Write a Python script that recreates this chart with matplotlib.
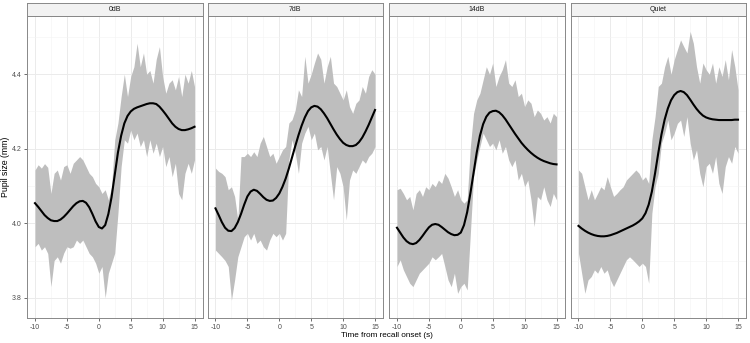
import numpy as np
import matplotlib
matplotlib.use("Agg")
import matplotlib.pyplot as plt

plt.rcParams['font.family'] = ['Liberation Sans', 'DejaVu Sans']
plt.rcParams['axes.unicode_minus'] = False

# time axis (s), 0.5 s steps
time = np.arange(-10, 15.5, 0.5)

panels = ["0dB", "7dB", "14dB", "Quiet"]

# smoothed pupil size (mm)
fit_0db = [4.054, 4.044, 4.033, 4.022, 4.014, 4.008, 4.006, 4.006, 4.010, 4.017, 4.026,
           4.036, 4.046, 4.054, 4.059, 4.060, 4.055, 4.043, 4.025, 4.005, 3.990,
           3.986, 3.995, 4.025, 4.070, 4.130, 4.190, 4.235, 4.268, 4.288, 4.300,
           4.307, 4.311, 4.314, 4.317, 4.320, 4.322, 4.322, 4.320, 4.313, 4.303,
           4.292, 4.280, 4.268, 4.259, 4.253, 4.250, 4.250, 4.252, 4.255, 4.259]
fit_7db = [4.040, 4.022, 4.003, 3.988, 3.980, 3.979, 3.987, 4.003, 4.025, 4.050, 4.072,
           4.085, 4.090, 4.087, 4.079, 4.070, 4.063, 4.060, 4.061, 4.068, 4.080,
           4.098, 4.120, 4.147, 4.177, 4.207, 4.236, 4.262, 4.284, 4.301, 4.311,
           4.315, 4.313, 4.306, 4.295, 4.282, 4.267, 4.252, 4.238, 4.226, 4.216,
           4.210, 4.207, 4.207, 4.210, 4.218, 4.230, 4.246, 4.264, 4.284, 4.304]
fit_14db = [3.988, 3.975, 3.962, 3.952, 3.946, 3.944, 3.947, 3.955, 3.966, 3.978, 3.989,
            3.996, 3.998, 3.996, 3.990, 3.983, 3.976, 3.971, 3.968, 3.969, 3.975,
            3.995, 4.030, 4.080, 4.135, 4.190, 4.235, 4.266, 4.286, 4.297, 4.301,
            4.302, 4.298, 4.290, 4.279, 4.266, 4.253, 4.240, 4.228, 4.216, 4.206,
            4.197, 4.189, 4.182, 4.176, 4.171, 4.167, 4.164, 4.161, 4.159, 4.158]
fit_quiet = [3.993, 3.986, 3.980, 3.975, 3.971, 3.968, 3.966, 3.965, 3.965, 3.966, 3.968,
             3.971, 3.974, 3.978, 3.982, 3.986, 3.990, 3.994, 3.999, 4.005, 4.013,
             4.027, 4.050, 4.085, 4.134, 4.188, 4.238, 4.278, 4.308, 4.330, 4.344,
             4.352, 4.355, 4.352, 4.344, 4.332, 4.319, 4.307, 4.297, 4.289, 4.284,
             4.281, 4.279, 4.278, 4.277, 4.277, 4.277, 4.277, 4.277, 4.278, 4.278]

# upper / lower edges of the grey band
hi_0db = [4.143, 4.157, 4.148, 4.160, 4.150, 4.080, 4.134, 4.143, 4.116, 4.152, 4.157,
          4.134, 4.161, 4.170, 4.179, 4.170, 4.152, 4.134, 4.125, 4.107, 4.098,
          4.080, 4.090, 4.063, 4.098, 4.224, 4.269, 4.340, 4.400, 4.340, 4.394,
          4.420, 4.483, 4.420, 4.457, 4.400, 4.410, 4.376, 4.440, 4.474, 4.394,
          4.349, 4.376, 4.385, 4.358, 4.394, 4.340, 4.400, 4.376, 4.410, 4.367]
lo_0db = [3.937, 3.946, 3.928, 3.937, 3.919, 3.830, 3.900, 3.910, 3.893, 3.920, 3.937,
          3.933, 3.937, 3.955, 3.946, 3.955, 3.937, 3.919, 3.910, 3.893, 3.866,
          3.884, 3.800, 3.866, 3.893, 3.920, 4.027, 4.152, 4.224, 4.215, 4.250,
          4.224, 4.242, 4.206, 4.224, 4.179, 4.224, 4.188, 4.215, 4.179, 4.206,
          4.152, 4.179, 4.125, 4.161, 4.080, 4.063, 4.134, 4.161, 4.134, 4.170]
hi_7db = [4.148, 4.139, 4.134, 4.125, 4.090, 4.098, 4.072, 4.009, 4.179, 4.179, 4.188,
          4.179, 4.192, 4.179, 4.215, 4.233, 4.206, 4.179, 4.188, 4.161, 4.179,
          4.197, 4.206, 4.269, 4.278, 4.304, 4.358, 4.340, 4.448, 4.376, 4.400,
          4.430, 4.457, 4.440, 4.376, 4.420, 4.448, 4.376, 4.367, 4.349, 4.331,
          4.358, 4.313, 4.295, 4.322, 4.331, 4.367, 4.349, 4.394, 4.412, 4.400]
lo_7db = [3.928, 3.919, 3.910, 3.900, 3.884, 3.794, 3.848, 3.910, 3.937, 3.964, 3.973,
          3.955, 3.973, 3.946, 3.955, 3.937, 3.928, 3.955, 3.973, 3.964, 3.973,
          3.955, 3.973, 4.170, 4.224, 4.188, 4.134, 4.215, 4.242, 4.260, 4.224,
          4.242, 4.197, 4.206, 4.170, 4.206, 4.134, 4.063, 4.152, 4.134, 4.098,
          4.009, 4.116, 4.143, 4.134, 4.152, 4.170, 4.161, 4.179, 4.188, 4.206]
hi_14db = [4.090, 4.094, 4.080, 4.063, 4.072, 4.036, 4.080, 4.090, 4.072, 4.098, 4.090,
           4.107, 4.098, 4.116, 4.107, 4.134, 4.121, 4.098, 4.072, 4.090, 4.063,
           4.054, 4.063, 4.206, 4.295, 4.331, 4.349, 4.385, 4.420, 4.400, 4.430,
           4.367, 4.394, 4.412, 4.439, 4.376, 4.367, 4.385, 4.340, 4.349, 4.313,
           4.331, 4.322, 4.286, 4.304, 4.295, 4.277, 4.286, 4.269, 4.295, 4.286]
lo_14db = [3.884, 3.902, 3.875, 3.857, 3.839, 3.830, 3.848, 3.866, 3.875, 3.884, 3.893,
           3.910, 3.902, 3.910, 3.919, 3.884, 3.848, 3.830, 3.866, 3.812, 3.830,
           3.839, 3.821, 3.973, 4.125, 4.170, 4.206, 4.242, 4.224, 4.206, 4.215,
           4.197, 4.224, 4.188, 4.206, 4.170, 4.152, 4.170, 4.116, 4.134, 4.098,
           4.116, 4.063, 3.991, 4.072, 4.063, 4.098, 4.063, 4.045, 4.080, 4.063]
hi_quiet = [4.143, 4.134, 4.098, 4.063, 4.090, 4.063, 4.080, 4.098, 4.090, 4.125, 4.098,
            4.072, 4.080, 4.090, 4.098, 4.116, 4.125, 4.134, 4.143, 4.134, 4.116,
            4.125, 4.107, 4.224, 4.286, 4.367, 4.376, 4.420, 4.448, 4.400, 4.439,
            4.466, 4.492, 4.474, 4.457, 4.515, 4.483, 4.420, 4.376, 4.430, 4.412,
            4.400, 4.430, 4.376, 4.420, 4.394, 4.439, 4.385, 4.466, 4.420, 4.358]
lo_quiet = [3.919, 3.866, 3.812, 3.848, 3.857, 3.875, 3.866, 3.884, 3.866, 3.875, 3.848,
            3.830, 3.848, 3.866, 3.884, 3.902, 3.910, 3.902, 3.893, 3.884, 3.893,
            3.884, 3.839, 4.027, 4.098, 4.134, 4.215, 4.242, 4.277, 4.224, 4.242,
            4.268, 4.277, 4.233, 4.286, 4.215, 4.170, 4.197, 4.134, 4.098, 4.152,
            4.161, 4.134, 4.179, 4.107, 4.080, 4.152, 4.179, 4.161, 4.206, 4.188]

fits = [fit_0db, fit_7db, fit_14db, fit_quiet]
highs = [hi_0db, hi_7db, hi_14db, hi_quiet]
lows = [lo_0db, lo_7db, lo_14db, lo_quiet]

W, H = 750, 343
fig = plt.figure(figsize=(W / 100, H / 100), dpi=100)

lefts = [27, 207.5, 389, 570.5]
pw = 175.5
top_px, bot_px = 15.7, 318.3
strip_top = 3.3

for i, name in enumerate(panels):
    x0 = lefts[i] / W
    ax = fig.add_axes([x0, 1 - bot_px / H, pw / W, (bot_px - top_px) / H])
    ax.fill_between(time, lows[i], highs[i], color='#bebebe', linewidth=0, zorder=2)
    ax.plot(time, fits[i], color='black', linewidth=1.5, zorder=3)
    ax.set_xlim(-11.25, 16.25)
    ax.set_ylim(3.745, 4.557)
    ax.set_xticks([-10, -5, 0, 5, 10, 15])
    ax.set_xticks([-7.5, -2.5, 2.5, 7.5, 12.5], minor=True)
    ax.set_yticks([3.8, 4.0, 4.2, 4.4])
    ax.set_yticks([3.9, 4.1, 4.3, 4.5], minor=True)
    ax.grid(which='major', color='#ebebeb', linewidth=0.7, zorder=0)
    ax.grid(which='minor', color='#f3f3f3', linewidth=0.4, zorder=0)
    ax.set_axisbelow(True)
    for s in ax.spines.values():
        s.set_color('#888888')
        s.set_linewidth(0.7)
    ax.tick_params(which='major', length=2.5, width=0.6, color='#555555',
                   labelsize=5, labelcolor='#4d4d4d', pad=1.5)
    ax.tick_params(which='minor', length=0)
    if i == 0:
        ax.set_yticklabels(['3.8', '4.0', '4.2', '4.4'])
        ax.set_ylabel('Pupil size (mm)', fontsize=6.3)
        ax.yaxis.set_label_coords(-(27 - 10.5) / pw, 0.5)
    else:
        ax.set_yticklabels([])
        ax.tick_params(axis='y', which='major', length=0)

    # facet strip
    sax = fig.add_axes([x0, 1 - top_px / H, pw / W, (top_px - strip_top) / H])
    sax.set_xticks([])
    sax.set_yticks([])
    sax.set_facecolor('#f2f2f2')
    for s in sax.spines.values():
        s.set_color('#888888')
        s.set_linewidth(0.7)
    sax.text(0.5, 0.5, name, ha='center', va='center', fontsize=5,
             color='#1a1a1a', transform=sax.transAxes)

fig.text(386.5 / W, 1 - 335.5 / H, 'Time from recall onset (s)',
         ha='center', va='center', fontsize=5.9)

fig.savefig('out.png', dpi=100)
